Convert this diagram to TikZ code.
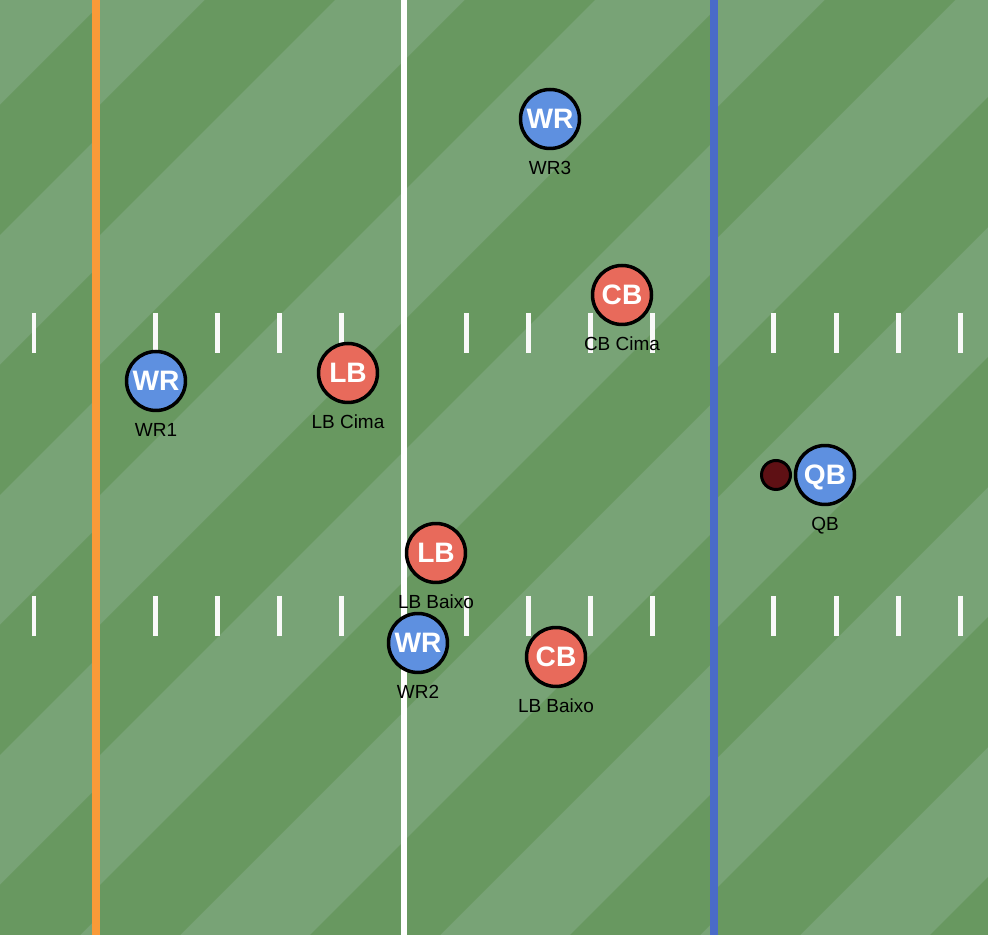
\documentclass[tikz,border=0pt]{standalone}
\usepackage{xcolor}
\usepackage{fontspec}
\setmainfont{Liberation Sans}

\definecolor{grasslight}{HTML}{78A376}
\definecolor{grassdark}{HTML}{689860}
\definecolor{sideorange}{HTML}{F99A38}
\definecolor{scrimblue}{HTML}{4A6BC8}
\definecolor{offblue}{HTML}{5E90E0}
\definecolor{defred}{HTML}{E86A5B}
\definecolor{ballred}{HTML}{5E1014}

\tikzset{
    player/.style={circle, draw=black, line width=0.07cm, minimum size=1.18cm,
        inner sep=0pt, text=white, text depth=0pt,
        font=\fontsize{16}{16}\selectfont\bfseries},
    offense/.style={player, fill=offblue},
    defense/.style={player, fill=defred},
    tag/.style={anchor=base, text=black, font=\fontsize{10.8}{12}\selectfont},
    hash/.style={white!95!gray, line width=0.1cm},
}

\begin{document}
\begin{tikzpicture}[x=0.02cm, y=-0.02cm]
    \useasboundingbox (0,0) rectangle (988,935);

    % 草地底色和斜条纹
    \fill[grasslight] (0,0) rectangle (988,935);
    \foreach \xa/\xb/\off in {0/96/105, 96/714/205, 714/988/45} {
        \begin{scope}
            \clip (\xa,0) rectangle (\xb,935);
            \foreach \m in {-1,...,8} {
                \pgfmathsetmacro\c{\off+260*\m}
                \fill[grassdark] (\c,0) -- (\c+130,0) -- (\c-805,935) -- (\c-935,935) -- cycle;
            }
        \end{scope}
    }

    % 定义三条竖线的端点
    \coordinate (O1) at (96,0);
    \coordinate (O2) at (96,935);
    \coordinate (M1) at (404,0);
    \coordinate (M2) at (404,935);
    \coordinate (S1) at (714,0);
    \coordinate (S2) at (714,935);

    % 画竖线
    \draw[sideorange, line width=0.16cm] (O1) -- (O2);
    \draw[white, line width=0.13cm] (M1) -- (M2);
    \draw[scrimblue, line width=0.16cm] (S1) -- (S2);

    % 码线短标记
    \foreach \hx in {34,155,217,279,341,466,528,590,652,773,836,898,960} {
        \draw[hash] (\hx,313) -- (\hx,353);
        \draw[hash] (\hx,596) -- (\hx,636);
    }

    % 球
    \node[circle, draw=black, fill=ballred, line width=0.06cm, minimum size=0.58cm,
        inner sep=0pt] (ball) at (776,475) {};

    % 进攻方球员
    \node[offense] (wr3) at (550,119) {WR};
    \node[tag] (wr3tag) at (550,175) {WR3};
    \node[offense] (wr1) at (156,381) {WR};
    \node[tag] (wr1tag) at (156,437) {WR1};
    \node[offense] (qb) at (825,475) {QB};
    \node[tag] (qbtag) at (825,531) {QB};
    \node[offense] (wr2) at (418,643) {WR};
    \node[tag] (wr2tag) at (418,699) {WR2};

    % 防守方球员
    \node[defense] (cbtop) at (622,295) {CB};
    \node[tag] (cbtoptag) at (622,351) {CB Cima};
    \node[defense] (lbtop) at (348,373) {LB};
    \node[tag] (lbtoptag) at (348,429) {LB Cima};
    \node[defense] (lbbot) at (436,553) {LB};
    \node[tag] (lbbottag) at (436,609) {LB Baixo};
    \node[defense] (cbbot) at (556,657) {CB};
    \node[tag] (cbbottag) at (556,713) {LB Baixo};

\end{tikzpicture}
\end{document}
